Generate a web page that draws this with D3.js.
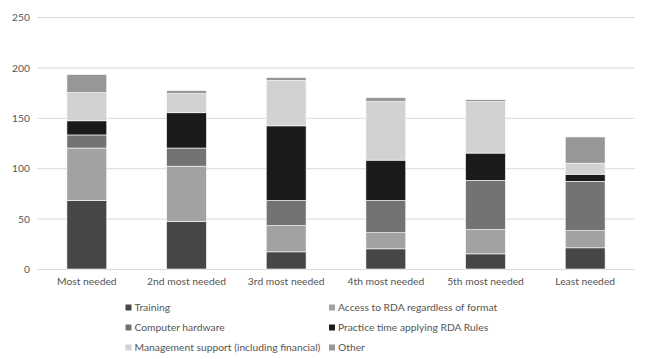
<!DOCTYPE html>
<html>
<head>
<meta charset="utf-8">
<script src="https://cdn.jsdelivr.net/npm/d3@7"></script>
<style>
  body { margin: 0; background: #fff; }
  text { font-family: Lato, "Open Sans", sans-serif; font-size: 10.3px; fill: #555555; }
</style>
</head>
<body>
<svg id="chart" width="648" height="359"></svg>
<script>
// ---- DATA ---- //
const categories = ["Most needed", "2nd most needed", "3rd most needed", "4th most needed", "5th most needed", "Least needed"];
const seriesNames = ["Training", "Access to RDA regardless of format", "Computer hardware",
  "Practice time applying RDA Rules", "Management support (including financial)", "Other"];
const training   = [68, 47, 17, 20, 15, 21];
const access     = [52, 55, 26, 16, 24, 17];
const hardware   = [13, 18, 25, 32, 49, 49];
const practice   = [14, 35, 74, 40, 27, 7];
const management = [28, 19, 45, 58, 51, 11];
const other      = [18, 3, 3, 4, 2, 26];
const yTicks = [0, 50, 100, 150, 200, 250];

const seriesValues = [training, access, hardware, practice, management, other];
const colors = ["#464646", "#a2a2a2", "#737373", "#1a1a1a", "#d2d2d2", "#979797"];

// build rows for the stack
const rows = categories.map((c, i) => {
  const r = {category: c};
  seriesNames.forEach((s, j) => r[s] = seriesValues[j][i]);
  return r;
});
const stacked = d3.stack().keys(seriesNames)(rows);

// ---- CHART ---- //
const svg = d3.select("#chart");
const plot = {left: 37, right: 635, top: 17, bottom: 269};

const x = d3.scaleBand()
  .domain(categories)
  .range([plot.left, plot.right])
  .paddingInner(0.6)
  .paddingOuter(0.3);
const y = d3.scaleLinear()
  .domain([0, 250])
  .range([plot.bottom, plot.top]);

// gridlines
svg.append("g")
  .selectAll("line")
  .data(yTicks)
  .enter().append("line")
    .attr("x1", plot.left)
    .attr("x2", plot.right)
    .attr("y1", d => y(d) + 0.5)
    .attr("y2", d => y(d) + 0.5)
    .style("stroke", "#d9d9d9")
    .attr("stroke-width", 1);

// y labels
const yAxis = d3.axisLeft(y).tickValues(yTicks).tickSize(0).tickPadding(7);
svg.append("g")
  .attr("transform", "translate(" + plot.left + ",0)")
  .call(yAxis)
  .call(g => g.select(".domain").remove())
  .selectAll("text")
    .attr("dy", "0.35em");

// bars
svg.append("g")
  .selectAll("g")
  .data(stacked)
  .enter().append("g")
    .attr("fill", (d, i) => colors[i])
  .selectAll("rect")
  .data(d => d)
  .enter().append("rect")
    .attr("x", d => x(d.data.category))
    .attr("width", x.bandwidth())
    .attr("y", d => y(d[1]))
    .attr("height", d => y(d[0]) - y(d[1]))
    .style("stroke", "#ffffff")
    .style("stroke-width", 0.6);

// x labels
const xAxis = d3.axisBottom(x).tickSize(0).tickPadding(9);
svg.append("g")
  .attr("transform", "translate(0," + plot.bottom + ")")
  .call(xAxis)
  .call(g => g.select(".domain").remove());

svg.selectAll(".tick text")
  .style("font-family", "Lato, 'Open Sans', sans-serif")
  .style("font-size", "10.3px")
  .style("fill", "#555555");

// ---- LEGEND ---- //
const legendCols = [125.5, 329];
const legendRows = [307.5, 327.5, 347.5];
const legend = svg.append("g")
  .selectAll("g")
  .data(seriesNames)
  .enter().append("g")
    .attr("transform", (d, i) => "translate(" + legendCols[i % 2] + "," + legendRows[Math.floor(i / 2)] + ")");
legend.append("rect")
  .attr("x", 0)
  .attr("y", -3)
  .attr("width", 6)
  .attr("height", 6)
  .attr("fill", (d, i) => colors[i]);
legend.append("text")
  .attr("x", 9)
  .attr("dy", "0.35em")
  .text(d => d);
</script>
</body>
</html>
